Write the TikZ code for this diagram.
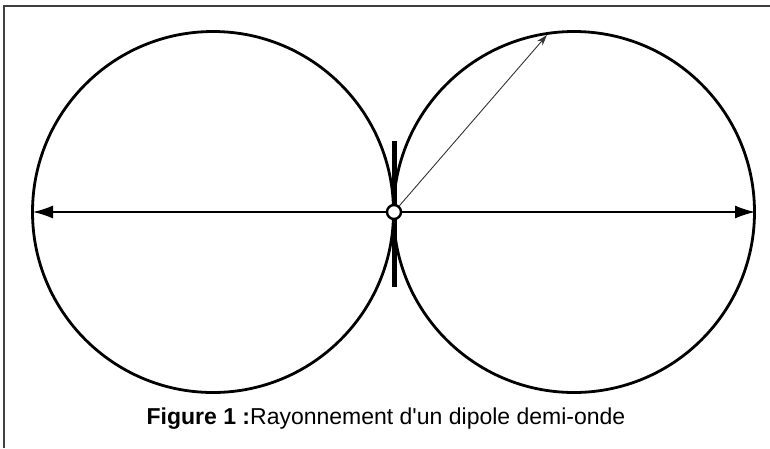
\documentclass[tikz,border=0pt]{standalone}
\usepackage{fontspec}
\setmainfont{Liberation Sans}
\usetikzlibrary{arrows.meta, positioning}

\begin{document}
\begin{tikzpicture}[x=1pt, y=-1pt,
    lobe/.style={draw, line width=2.8pt},
    axis/.style={{Latex[length=20pt, width=13pt]}-{Latex[length=20pt, width=13pt]}, line width=1.4pt},
    ray/.style={-{Stealth[length=11pt, width=7pt]}, line width=0.9pt, black!80},
    feed/.style={circle, draw, fill=white, line width=2.4pt, inner sep=0pt, minimum size=14pt},
    frm/.style={line width=1.6pt, black!75}
]
\useasboundingbox (0,0) rectangle (770,448);

% page frame (only top and left edge in view)
\draw[frm] (4,448) -- (4,6) -- (770,6);

% radiation lobes
\coordinate (cl) at (213,212);
\coordinate (cr) at (574,212);
\draw[lobe] (cl) circle[radius=180.5];
\draw[lobe] (cr) circle[radius=180.5];

% dipole
\coordinate (dtop) at (394,141);
\coordinate (dbot) at (394,287);
\draw[line width=5pt] (dtop) -- (dbot);

\coordinate (lft) at (33,212);
\coordinate (rgt) at (755,212);
\coordinate (rtip) at (547,35);
\draw[axis] (lft) -- (rgt);
\node[feed] (src) at (394,212) {};
\draw[ray] (src) -- (rtip);

\node[font=\fontsize{23}{28}\selectfont] (cap) at (386,419)
  {\textbf{Figure 1 :}Rayonnement d\textquotesingle un dipole demi-onde};
\end{tikzpicture}
\end{document}
